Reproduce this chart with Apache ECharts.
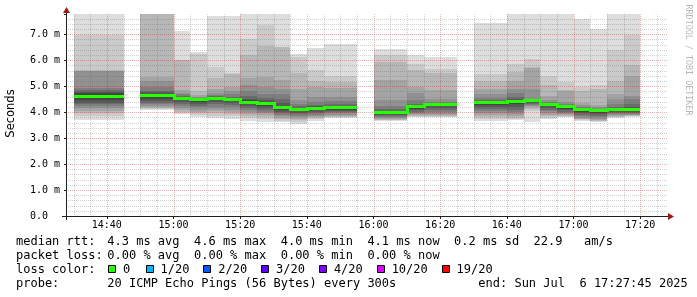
<!DOCTYPE html>
<html><head><meta charset="utf-8">
<script src="https://cdn.jsdelivr.net/npm/echarts@6/dist/echarts.min.js"></script>
<style>html,body{margin:0;padding:0;background:#fff}#c{width:697px;height:297px}</style>
</head><body><div id="c"></div>
<script>
// ---------------- data ----------------
const stepTimes = ['14:30','14:35','14:40','14:45','14:50','14:55','15:00','15:05','15:10','15:15',
  '15:20','15:25','15:30','15:35','15:40','15:45','15:50','15:55','16:00','16:05',
  '16:10','16:15','16:20','16:25','16:30','16:35','16:40','16:45','16:50','16:55',
  '17:00','17:05','17:10','17:15'];
const medianRtt = [4.59,4.59,4.59,null,4.64,4.64,4.52,4.47,4.52,4.50,
  4.38,4.32,4.17,4.11,4.15,4.17,4.17,null,3.98,3.98,
  4.20,4.29,4.29,null,4.36,4.36,4.41,4.43,4.29,4.21,
  4.11,4.07,4.11,4.11];
// 20 sorted ping rtts (ms) per step
const pingSets = [
  [3.70,3.87,3.98,4.05,4.15,4.22,4.30,4.36,4.45,4.56,4.66,4.72,4.78,4.85,4.92,5.57,5.59,5.61,6.96,7.90],
  [3.70,3.87,3.98,4.05,4.15,4.22,4.30,4.36,4.45,4.56,4.66,4.72,4.78,4.85,4.92,5.57,5.59,5.61,6.96,7.90],
  [3.70,3.87,3.98,4.05,4.15,4.22,4.30,4.36,4.45,4.56,4.66,4.72,4.78,4.85,4.92,5.57,5.59,5.61,6.96,7.90],
  null,
  [4.08,4.12,4.16,4.20,4.25,4.30,4.36,4.42,4.50,4.60,4.67,4.71,4.76,4.83,4.95,5.20,5.35,7.90,7.92,7.95],
  [4.08,4.12,4.16,4.20,4.25,4.30,4.36,4.42,4.50,4.60,4.67,4.71,4.76,4.83,4.95,5.20,5.35,7.90,7.92,7.95],
  [3.92,3.97,4.02,4.08,4.15,4.22,4.30,4.38,4.45,4.50,4.54,4.56,4.58,4.62,4.68,4.75,4.85,6.00,6.02,7.12],
  [3.80,3.88,3.95,4.02,4.10,4.18,4.25,4.33,4.40,4.45,4.48,4.50,4.51,4.53,4.56,4.60,4.65,4.80,6.25,6.30],
  [3.78,3.87,3.95,4.03,4.12,4.20,4.30,4.38,4.45,4.50,4.53,4.55,4.58,4.62,4.67,4.75,4.90,5.30,5.73,7.70],
  [3.74,3.84,3.92,4.00,4.10,4.18,4.27,4.35,4.42,4.48,4.51,4.53,4.56,4.60,4.68,4.80,4.96,5.47,5.50,7.70],
  [3.67,3.77,3.85,3.93,4.00,4.08,4.15,4.22,4.30,4.36,4.41,4.45,4.52,4.62,4.80,5.05,5.30,6.21,6.81,7.90],
  [3.61,3.72,3.80,3.88,3.95,4.02,4.10,4.17,4.24,4.30,4.35,4.38,4.45,4.55,4.70,4.95,5.35,6.54,7.35,7.90],
  [3.61,3.67,3.72,3.78,3.84,3.90,3.96,4.02,4.08,4.14,4.20,4.25,4.35,4.50,4.70,4.90,5.22,6.49,6.51,7.90],
  [3.55,3.62,3.68,3.74,3.80,3.86,3.92,3.98,4.04,4.09,4.12,4.14,4.17,4.22,4.30,4.45,4.90,5.50,6.12,6.25],
  [3.67,3.72,3.76,3.80,3.85,3.90,3.96,4.02,4.08,4.13,4.16,4.18,4.22,4.28,4.38,4.60,4.96,5.20,5.61,6.48],
  [3.78,3.80,3.83,3.86,3.90,3.95,4.00,4.05,4.10,4.15,4.19,4.21,4.25,4.32,4.43,4.60,4.94,5.15,5.41,6.64],
  [3.78,3.80,3.83,3.86,3.90,3.95,4.00,4.05,4.10,4.15,4.19,4.21,4.25,4.32,4.43,4.60,4.94,5.15,5.41,6.64],
  null,
  [3.67,3.69,3.71,3.74,3.77,3.80,3.84,3.88,3.92,3.96,3.99,4.01,4.05,4.12,4.25,4.45,5.22,5.93,6.20,6.42],
  [3.67,3.69,3.71,3.74,3.77,3.80,3.84,3.88,3.92,3.96,3.99,4.01,4.05,4.12,4.25,4.45,5.22,5.93,6.20,6.42],
  [3.80,3.82,3.85,3.88,3.92,3.96,4.01,4.07,4.13,4.18,4.21,4.22,4.25,4.30,4.45,4.73,4.96,5.61,5.84,6.19],
  [3.80,3.82,3.85,3.89,3.94,4.00,4.08,4.15,4.22,4.27,4.30,4.31,4.32,4.34,4.38,4.50,4.86,5.50,5.67,6.12],
  [3.80,3.82,3.85,3.89,3.94,4.00,4.08,4.15,4.22,4.27,4.30,4.31,4.32,4.34,4.38,4.50,4.86,5.50,5.67,6.12],
  null,
  [3.67,3.73,3.80,3.88,3.96,4.04,4.12,4.20,4.28,4.34,4.37,4.39,4.41,4.45,4.55,4.70,4.90,5.20,5.48,7.44],
  [3.67,3.73,3.80,3.88,3.96,4.04,4.12,4.20,4.28,4.34,4.37,4.39,4.41,4.45,4.55,4.70,4.90,5.20,5.48,7.44],
  [3.70,3.74,3.79,3.85,3.92,4.00,4.10,4.20,4.30,4.38,4.42,4.45,4.50,4.58,4.72,4.90,5.20,5.54,5.87,7.90],
  [3.61,4.05,4.12,4.18,4.24,4.28,4.32,4.36,4.39,4.41,4.44,4.45,4.46,4.48,4.50,4.90,5.70,5.74,6.06,7.90],
  [3.74,3.79,3.84,3.90,3.97,4.03,4.10,4.16,4.22,4.27,4.30,4.31,4.32,4.34,4.38,4.45,4.64,5.03,5.41,7.90],
  [3.80,3.82,3.85,3.88,3.92,3.96,4.01,4.07,4.13,4.19,4.22,4.23,4.24,4.26,4.30,4.40,4.80,4.85,5.16,7.90],
  [3.67,3.69,3.72,3.75,3.79,3.84,3.90,3.96,4.02,4.08,4.12,4.13,4.14,4.16,4.20,4.28,4.35,4.80,4.96,7.60],
  [3.61,3.64,3.67,3.71,3.75,3.80,3.86,3.92,3.98,4.04,4.07,4.08,4.09,4.10,4.13,4.20,4.28,4.90,5.03,7.19],
  [3.78,3.80,3.82,3.85,3.88,3.91,3.95,3.99,4.04,4.09,4.12,4.13,4.15,4.20,4.30,4.50,4.70,5.20,6.38,7.90],
  [3.83,3.85,3.86,3.88,3.90,3.93,3.96,4.00,4.05,4.09,4.12,4.14,4.18,4.30,4.50,4.63,5.40,5.80,6.96,7.90]
];
const xTickLabels = ['14:40','15:00','15:20','15:40','16:00','16:20','16:40','17:00','17:20'];
const yTickLabels = ['0.0','1.0 m','2.0 m','3.0 m','4.0 m','5.0 m','6.0 m','7.0 m'];
const lossLabels = ['0','1/20','2/20','3/20','4/20','10/20','19/20'];
const lossColors = ['#26ff00','#00b8ff','#0059ff','#5e00ff','#7e00ff','#dd00ff','#ff0000'];
const statLabels = ['median rtt:','packet loss:','loss color:','probe:'];
const statValues = ['4.3 ms avg  4.6 ms max  4.0 ms min  4.1 ms now  0.2 ms sd  22.9   am/s',
  '0.00 % avg  0.00 % max  0.00 % min  0.00 % now', '',
  '20 ICMP Echo Pings (56 Bytes) every 300s'];
const endText = 'end: Sun Jul  6 17:27:45 2025';
const creditText = 'RRDTOOL / TOBI OETIKER';

// ---------------- helpers ----------------
const STEP = 5;
const X_MIN = 27.75, X_MAX = 207.75, Y_MAX = 7.78;
function toMin(s){ const a = s.split(':'); return (+a[0] - 14) * 60 + (+a[1]); }
const grays = [221,202,183,164,145,126,107,88,69,50];
const xTickVals = xTickLabels.map(toMin);

const smokeData = [];
const medData = [];
stepTimes.forEach((t, i) => {
  const s = toMin(t);
  if (pingSets[i]) smokeData.push([s, s + STEP, i]);
  if (medianRtt[i] != null) medData.push([s, s + STEP, medianRtt[i], i > 0 && medianRtt[i-1] != null ? medianRtt[i-1] : -1]);
});
const vGrid = [];
for (let m = 30; m <= 205; m += 5) vGrid.push([m, 0]);
const hGrid = [];
for (let k = 1; k <= 38; k++) hGrid.push([X_MIN, k / 5]);

const MAJOR = 'rgba(215,0,0,0.3)';
const MINOR = 'rgba(100,100,100,0.3)';

function renderSmoke(params, api) {
  const p = pingSets[api.value(2)];
  const x0 = Math.round(api.coord([api.value(0), 0])[0]);
  const x1 = Math.round(api.coord([api.value(1), 0])[0]);
  const children = [];
  for (let k = 0; k < 10; k++) {
    const top = Math.round(api.coord([0, Math.min(p[19 - k], Y_MAX)])[1]);
    const bot = Math.round(api.coord([0, p[k]])[1]);
    const g = grays[k];
    children.push({ type: 'rect', shape: { x: x0, y: top, width: x1 - x0, height: bot - top },
      style: { fill: 'rgb(' + g + ',' + g + ',' + g + ')' } });
  }
  return { type: 'group', children };
}
function renderMedian(params, api) {
  const x0 = Math.round(api.coord([api.value(0), 0])[0]);
  const x1 = Math.round(api.coord([api.value(1), 0])[0]);
  const y = api.coord([0, api.value(2)])[1];
  const children = [{ type: 'rect', shape: { x: x0, y: Math.round(y - 1.5), width: x1 - x0, height: 3 }, style: { fill: lossColors[0] } }];
  const prev = api.value(3);
  if (prev > 0) {
    const yp = api.coord([0, prev])[1];
    const a = Math.round(Math.min(y, yp) - 1.5), b = Math.round(Math.max(y, yp) + 1.5);
    children.push({ type: 'rect', shape: { x: x0 - 1, y: a, width: 3, height: b - a }, style: { fill: lossColors[0] } });
  }
  return { type: 'group', children };
}
function renderV(params, api) {
  const v = api.value(0);
  const x = Math.round(api.coord([v, 0])[0]) + 0.5;
  const yb = api.coord([v, 0])[1], yt = api.coord([v, Y_MAX])[1];
  return { type: 'line', shape: { x1: x, y1: yt, x2: x, y2: yb },
    style: { stroke: v % 20 === 0 ? MAJOR : MINOR, lineWidth: 1, lineDash: [1, 1] } };
}
function renderH(params, api) {
  const v = api.value(1);
  const y = Math.round(api.coord([X_MIN, v])[1]) + 0.5;
  const xl = api.coord([X_MIN, v])[0], xr = api.coord([X_MAX, v])[0] + 2;
  const major = Math.abs(v - Math.round(v)) < 1e-6;
  return { type: 'line', shape: { x1: xl, y1: y, x2: xr, y2: y },
    style: { stroke: major ? MAJOR : MINOR, lineWidth: 1, lineDash: [1, 1] } };
}

// ---------------- legend graphics ----------------
const MONO = 'DejaVu Sans Mono';
const lineY = [241.5, 255.5, 269.5, 283.5];
const graphic = [];
statLabels.forEach((s, i) => {
  graphic.push({ type: 'text', style: { text: s, x: 16, y: lineY[i], font: '12px ' + MONO, fill: '#000', verticalAlign: 'middle' } });
  if (statValues[i]) graphic.push({ type: 'text', style: { text: statValues[i], x: 107.3, y: lineY[i], font: '12px ' + MONO, fill: '#000', verticalAlign: 'middle' } });
});
graphic.push({ type: 'text', style: { text: endText, x: 478.3, y: lineY[3], font: '12px ' + MONO, fill: '#000', verticalAlign: 'middle' } });
let bx = 108;
lossLabels.forEach((lab, i) => {
  graphic.push({ type: 'rect', shape: { x: Math.round(bx) + 0.5, y: 265.5, width: 7, height: 7 }, style: { fill: lossColors[i], stroke: '#000', lineWidth: 1 } });
  graphic.push({ type: 'text', style: { text: lab, x: bx + 15, y: lineY[2], font: '12px ' + MONO, fill: '#000', verticalAlign: 'middle' } });
  bx += (lab.length + 4) * 7.22 + (i === 0 ? 1.5 : 0);
});
// axis lines and arrows
graphic.push({ type: 'line', shape: { x1: 62, y1: 216.5, x2: 669, y2: 216.5 }, style: { stroke: '#202020', lineWidth: 1 }, z: 50 });
graphic.push({ type: 'line', shape: { x1: 66.5, y1: 220, x2: 66.5, y2: 11 }, style: { stroke: '#202020', lineWidth: 1 }, z: 50 });
graphic.push({ type: 'polygon', shape: { points: [[668, 213], [674, 216.5], [668, 220]] }, style: { fill: '#a01818' }, z: 51 });
graphic.push({ type: 'polygon', shape: { points: [[63, 13], [66.5, 7], [70, 13]] }, style: { fill: '#a01818' }, z: 51 });
// y-axis title and credit
graphic.push({ type: 'text', x: 11, y: 113.5, rotation: Math.PI / 2,
  style: { text: 'Seconds', font: '11.5px DejaVu Sans', fill: '#000', align: 'center', verticalAlign: 'middle' } });
graphic.push({ type: 'text', x: 688, y: 60, rotation: -Math.PI / 2,
  style: { text: creditText, font: '8.4px ' + MONO, fill: '#b8b8b8', align: 'center', verticalAlign: 'middle' } });

const option = {
  animation: false,
  backgroundColor: '#ffffff',
  grid: { left: 66, top: 14, width: 600, height: 202 },
  xAxis: {
    type: 'value', min: X_MIN, max: X_MAX,
    axisLine: { show: false }, splitLine: { show: false },
    axisTick: { show: true, customValues: xTickVals, length: 3, lineStyle: { color: '#202020' } },
    axisLabel: { customValues: xTickVals, margin: 4, fontFamily: MONO, fontSize: 10, color: '#000',
      formatter: v => { const i = xTickVals.indexOf(Math.round(v)); return i >= 0 ? xTickLabels[i] : ''; } }
  },
  yAxis: {
    type: 'value', min: 0, max: Y_MAX, interval: 1,
    axisLine: { show: false }, splitLine: { show: false },
    axisTick: { show: true, length: 2, lineStyle: { color: '#202020' } },
    axisLabel: { align: 'left', margin: 36, fontFamily: MONO, fontSize: 10, color: '#000',
      formatter: v => { const r = Math.round(v); return Math.abs(v - r) < 1e-6 && yTickLabels[r] ? yTickLabels[r] : ''; } }
  },
  series: [
    { type: 'custom', name: 'smoke', renderItem: renderSmoke, data: smokeData, z: 2, silent: true, encode: { x: [0, 1], y: 2 } },
    { type: 'custom', name: 'vgrid', renderItem: renderV, data: vGrid, z: 3, silent: true },
    { type: 'custom', name: 'hgrid', renderItem: renderH, data: hGrid, z: 3, silent: true },
    { type: 'custom', name: 'median', renderItem: renderMedian, data: medData, z: 4, silent: true, encode: { x: [0, 1], y: 2 } }
  ],
  graphic: graphic
};
const chart = echarts.init(document.getElementById('c'), null, { renderer: 'canvas' });
chart.setOption(option);
</script></body></html>
